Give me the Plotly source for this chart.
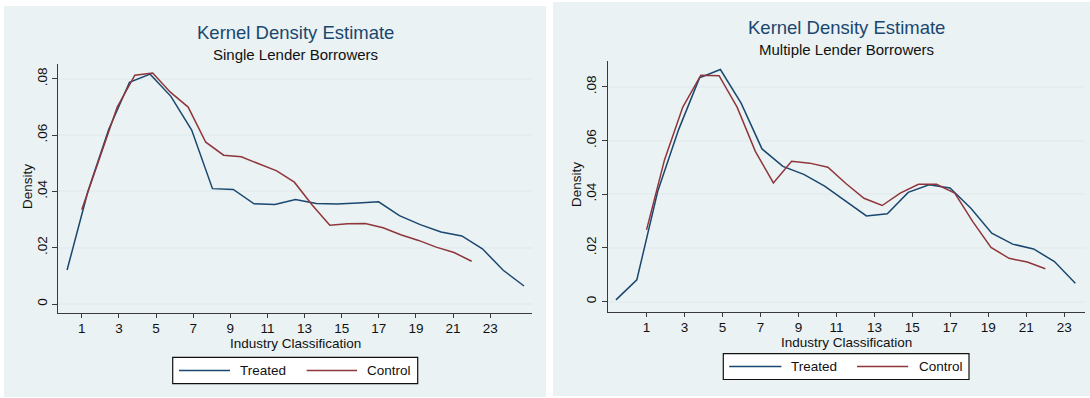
import plotly.graph_objects as go

# ---- data: kernel density estimates over industry classification ----
single_treated_x = [0.21, 1.33, 2.45, 3.57, 4.68, 5.80, 6.92, 8.04, 9.16, 10.28, 11.40, 12.51,
                    13.63, 14.75, 15.87, 16.99, 18.11, 19.23, 20.35, 21.47, 22.58, 23.70, 24.82]
single_treated_y = [.0121, .0400, .0620, .0788, .0817, .0738, .0618, .0410, .0407, .0356, .0354, .0371,
                    .0357, .0355, .0359, .0363, .0314, .0282, .0256, .0242, .0196, .0120, .0064]
single_control_x = [1.00, 1.95, 2.91, 3.86, 4.82, 5.77, 6.73, 7.68, 8.64, 9.59, 10.55, 11.50,
                    12.45, 13.41, 14.36, 15.32, 16.27, 17.23, 18.18, 19.14, 20.09, 21.05, 22.00]
single_control_y = [.0335, .0513, .0700, .0813, .0821, .0753, .0700, .0575, .0529, .0523, .0498, .0473,
                    .0433, .0352, .0280, .0285, .0286, .0271, .0246, .0226, .0202, .0183, .0152]

multi_treated_x = [-0.61, 0.49, 1.59, 2.69, 3.79, 4.89, 5.98, 7.08, 8.18, 9.28, 10.38, 11.48,
                   12.58, 13.68, 14.78, 15.88, 16.98, 18.08, 19.18, 20.28, 21.38, 22.48, 23.58]
multi_treated_y = [.0006, .0081, .0411, .0641, .0834, .0865, .0740, .0569, .0504, .0474, .0430, .0374,
                   .0319, .0327, .0407, .0435, .0423, .0348, .0255, .0214, .0196, .0149, .0068]
multi_control_x = [1.00, 1.95, 2.91, 3.86, 4.82, 5.77, 6.73, 7.68, 8.64, 9.59, 10.55, 11.50,
                   12.45, 13.41, 14.36, 15.32, 16.27, 17.23, 18.18, 19.14, 20.09, 21.05, 22.00]
multi_control_y = [.0267, .0529, .0725, .0844, .0842, .0725, .0560, .0442, .0523, .0516, .0501, .0440,
                   .0385, .0358, .0404, .0437, .0437, .0404, .0298, .0202, .0161, .0147, .0122]

x_ticks = [1, 3, 5, 7, 9, 11, 13, 15, 17, 19, 21, 23]
y_ticks = [0, .02, .04, .06, .08]
y_tick_text = ["0", ".02", ".04", ".06", ".08"]

series_names = ["Treated", "Control"]
series_colors = ["#1a476f", "#90353b"]

main_title = "Kernel Density Estimate"
subtitles = ["Single Lender Borrowers", "Multiple Lender Borrowers"]
x_title = "Industry Classification"
y_title = "Density"

# ---- styling ----
W, H = 1090, 398
FONT = "Arial, Liberation Sans, sans-serif"
PANEL_BG = "#eaf2f3"
GRID = "#e4edef"
AXIS = "#3a3a3a"


def px(x):
    return x / W


def py(y):
    return 1 - y / H


fig = go.Figure()

panels = [
    dict(xa="x", ya="y", tx=single_treated_x, ty=single_treated_y,
         cx=single_control_x, cy=single_control_y),
    dict(xa="x2", ya="y2", tx=multi_treated_x, ty=multi_treated_y,
         cx=multi_control_x, cy=multi_control_y),
]

for p in panels:
    fig.add_trace(go.Scatter(x=p["tx"], y=p["ty"], mode="lines", name=series_names[0],
                             line=dict(color=series_colors[0], width=1.5),
                             xaxis=p["xa"], yaxis=p["ya"], showlegend=False))
    fig.add_trace(go.Scatter(x=p["cx"], y=p["cy"], mode="lines", name=series_names[1],
                             line=dict(color=series_colors[1], width=1.5),
                             xaxis=p["xa"], yaxis=p["ya"], showlegend=False))

common_x = dict(
    tickmode="array", tickvals=x_ticks, ticks="outside", ticklen=4, tickwidth=1,
    tickcolor=AXIS, showline=True, linecolor=AXIS, linewidth=1.2, showgrid=False,
    zeroline=False, ticklabelstandoff=-1,
    tickfont=dict(family=FONT, size=13.5, color="#111"),
)
common_y = dict(
    tickmode="array", tickvals=y_ticks, ticktext=y_tick_text, tickangle=-90,
    ticks="outside", ticklen=5, tickwidth=1, tickcolor=AXIS, showline=True,
    linecolor=AXIS, linewidth=1.2, showgrid=True, gridcolor=GRID, gridwidth=1.5,
    zeroline=False, tickfont=dict(family=FONT, size=13.5, color="#111"),
)

fig.update_layout(
    width=W, height=H, autosize=False,
    margin=dict(l=0, r=0, t=0, b=0),
    paper_bgcolor="white", plot_bgcolor="white",
    xaxis=dict(common_x, domain=[px(58), px(532)], range=[-0.28, 25.25], anchor="y"),
    yaxis=dict(common_y, domain=[py(313), py(64)], range=[-0.0032, 0.0853], anchor="x"),
    xaxis2=dict(common_x, domain=[px(607.6), px(1085)], range=[-1.05, 24.09], anchor="y2"),
    yaxis2=dict(common_y, domain=[py(311.7), py(60.7)], range=[-0.0038, 0.0898], anchor="x2"),
)

shapes = []
annotations = []

# panel backgrounds
for (x0, y0, x1, y1) in [(4, 6, 546, 397), (553, 2, 1090, 396)]:
    shapes.append(dict(type="rect", xref="paper", yref="paper", x0=px(x0), x1=px(x1),
                       y0=py(y1), y1=py(y0), fillcolor=PANEL_BG, line=dict(width=0),
                       layer="below"))

# titles and axis titles
panel_text = [
    dict(cx=295, ty=32, sy=54, sub=subtitles[0], xt=(295, 343.5), yt=(27, 187)),
    dict(cx=846, ty=28, sy=50, sub=subtitles[1], xt=(846, 342), yt=(577, 185)),
]
for t in panel_text:
    annotations.append(dict(xref="paper", yref="paper", x=px(t["cx"]), y=py(t["ty"]),
                            text=main_title, showarrow=False, xanchor="center", yanchor="middle",
                            font=dict(family=FONT, size=18.5, color="#1a476f")))
    annotations.append(dict(xref="paper", yref="paper", x=px(t["cx"]), y=py(t["sy"]),
                            text=t["sub"], showarrow=False, xanchor="center", yanchor="middle",
                            font=dict(family=FONT, size=15, color="#111")))
    annotations.append(dict(xref="paper", yref="paper", x=px(t["xt"][0]), y=py(t["xt"][1]),
                            text=x_title, showarrow=False, xanchor="center", yanchor="middle",
                            font=dict(family=FONT, size=13.5, color="#111")))
    annotations.append(dict(xref="paper", yref="paper", x=px(t["yt"][0]), y=py(t["yt"][1]),
                            text=y_title, showarrow=False, xanchor="center", yanchor="middle",
                            textangle=-90, font=dict(family=FONT, size=13.5, color="#111")))

# legends: box, key lines and labels
legend_specs = [
    dict(box=(172.7, 357.3, 417.7, 383.7), yc=370.5,
         keys=[(179, 230, 238), (306.7, 357, 365)]),
    dict(box=(723.3, 353.6, 969, 379.5), yc=366.6,
         keys=[(729.2, 781.4, 789.4), (857, 908.2, 917)]),
]
for spec in legend_specs:
    bx0, by0, bx1, by1 = spec["box"]
    shapes.append(dict(type="rect", xref="paper", yref="paper", x0=px(bx0), x1=px(bx1),
                       y0=py(by1), y1=py(by0), fillcolor="white",
                       line=dict(color="#111", width=1.2)))
    for (lx0, lx1, tx), name, color in zip(spec["keys"], series_names, series_colors):
        shapes.append(dict(type="line", xref="paper", yref="paper", x0=px(lx0), x1=px(lx1),
                           y0=py(spec["yc"]), y1=py(spec["yc"]),
                           line=dict(color=color, width=1.5)))
        annotations.append(dict(xref="paper", yref="paper", x=px(tx), y=py(spec["yc"]),
                                text=name, showarrow=False, xanchor="left", yanchor="middle",
                                font=dict(family=FONT, size=13.5, color="#111")))

fig.update_layout(shapes=shapes, annotations=annotations)

fig.write_html("out.html")
